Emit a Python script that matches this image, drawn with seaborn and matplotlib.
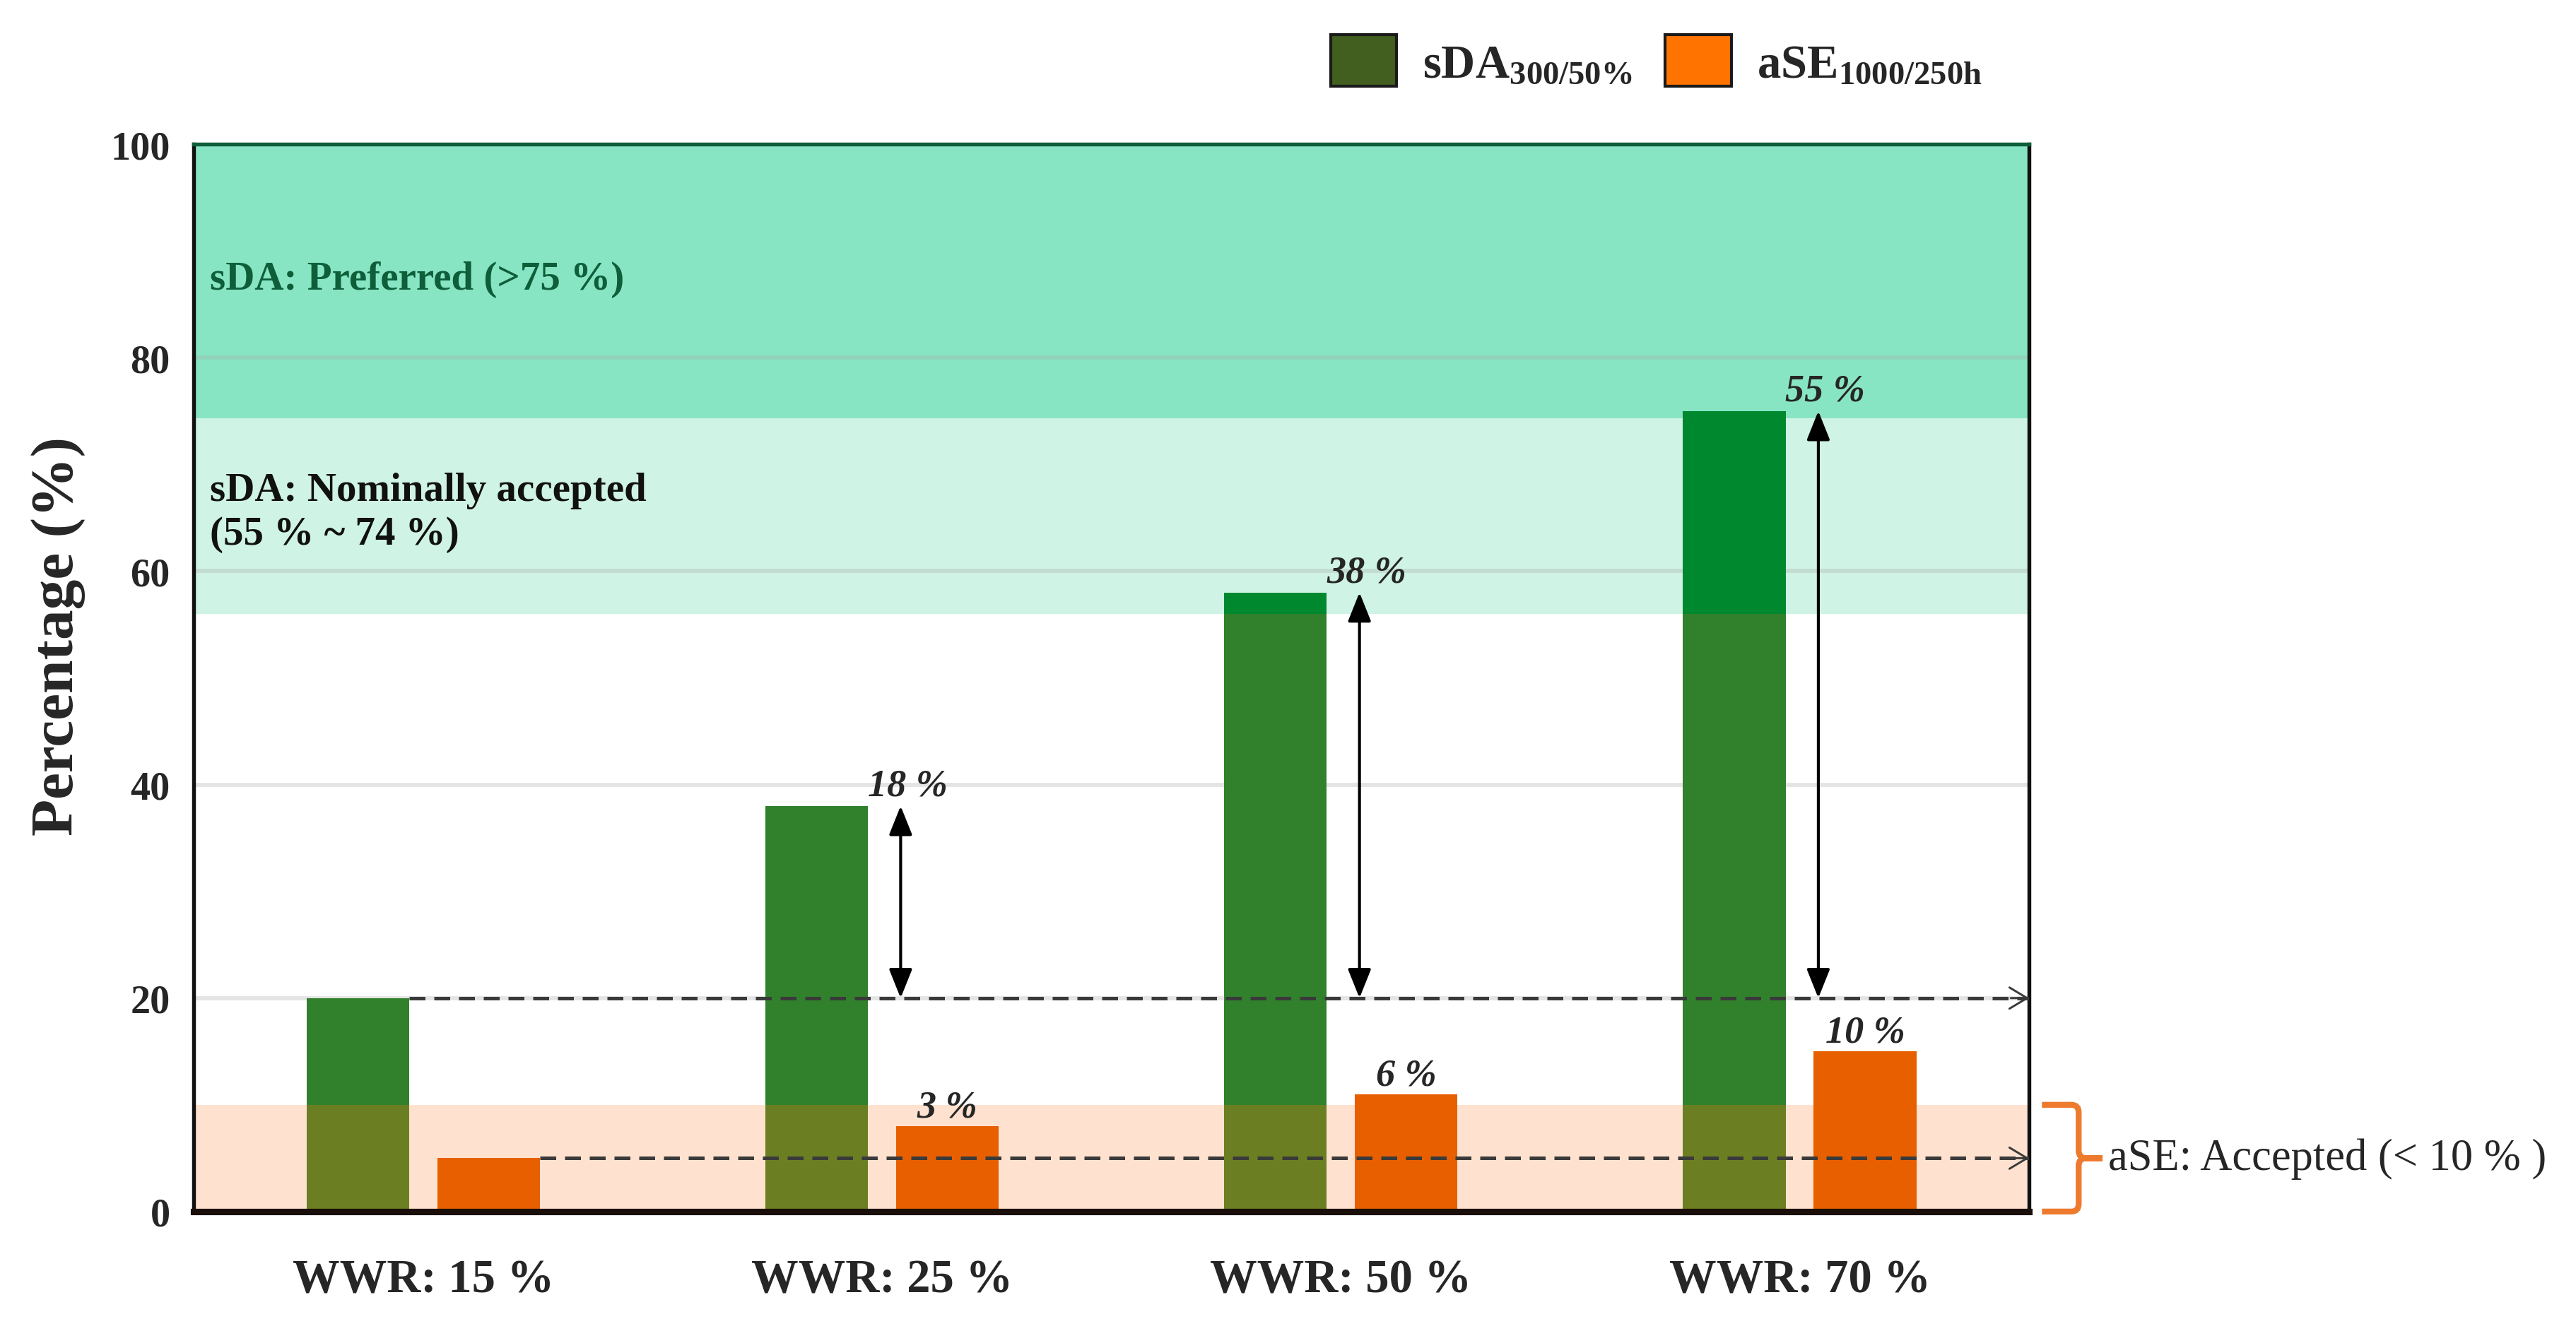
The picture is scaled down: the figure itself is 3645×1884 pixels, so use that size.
import pandas as pd
import matplotlib
matplotlib.use('Agg')
import matplotlib.pyplot as plt
import matplotlib.transforms as mtransforms
from matplotlib.patches import Patch, Rectangle, PathPatch
from matplotlib.path import Path
import seaborn as sns

# data
wwr_labels = ['WWR: 15 %', 'WWR: 25 %', 'WWR: 50 %', 'WWR: 70 %']
sda_values = [20, 38, 58, 75]
ase_values = [5, 8, 11, 15]
sda_gain_labels = ['18 %', '38 %', '55 %']
ase_gain_labels = ['3 %', '6 %', '10 %']
metric_names = ['sDA', 'aSE']

# threshold bands
sda_preferred = (74.3, 100)
sda_nominal = (56, 74.3)
ase_accepted = (0, 10)

df = pd.DataFrame({
    'wwr': wwr_labels * 2,
    'metric': ['sDA'] * len(wwr_labels) + ['aSE'] * len(wwr_labels),
    'value': sda_values + ase_values,
})

sns.set_style('white')
plt.rcParams['font.family'] = ['Liberation Serif', 'DejaVu Serif']
plt.rcParams['mathtext.fontset'] = 'custom'
plt.rcParams['mathtext.rm'] = 'Liberation Serif'
plt.rcParams['mathtext.bf'] = 'Liberation Serif:bold'
plt.rcParams['mathtext.it'] = 'Liberation Serif:italic'

green = '#31802c'
green_hi = '#00882f'
olive = '#6b7f22'
orange = '#e85f00'

fig = plt.figure(figsize=(12.15, 6.2833), dpi=300)
ax = fig.add_axes([0.0752, 0.0897, 0.7125, 0.8015])

band_pref = ax.axhspan(*sda_preferred, color='#88e5c4', lw=0, zorder=0)
band_nom = ax.axhspan(*sda_nominal, color='#cff3e4', lw=0, zorder=0)
band_ase = ax.axhspan(*ase_accepted, color='#fee2cf', lw=0, zorder=0)

sns.barplot(data=df, x='wwr', y='value', hue='metric', hue_order=metric_names,
            palette=[green, orange], width=0.57, gap=0.215, saturation=1,
            errorbar=None, legend=False, ax=ax, zorder=2, linewidth=0)

sda_bars = ax.containers[0]
ase_bars = ax.containers[1]

# green bars take a different tint where they sit inside a band
for bar in sda_bars:
    for band, col in [(band_pref, green_hi), (band_nom, green_hi), (band_ase, olive)]:
        piece = Rectangle(bar.get_xy(), bar.get_width(), bar.get_height(),
                          facecolor=col, lw=0, zorder=2.1)
        ax.add_patch(piece)
        piece.set_clip_path(band)

ax.set_xlim(-0.5, 3.5)
ax.set_ylim(0, 100)
x_end = ax.get_xlim()[1]

# dashed reference lines from the first pair of bars
dash_col = '#3a3a3a'
for bar, y in [(sda_bars[0], sda_values[0]), (ase_bars[0], ase_values[0])]:
    x0 = bar.get_x() + bar.get_width()
    ax.plot([x0, x_end], [y, y], color=dash_col, lw=1.2, ls=(0, (4.5, 2.5)), zorder=3)
    ax.annotate('', xy=(x_end, y), xytext=(x_end - 0.04, y),
                arrowprops=dict(arrowstyle='->, head_length=0.5, head_width=0.3',
                                color=dash_col, lw=0.7, shrinkA=0, shrinkB=0,
                                mutation_scale=12),
                annotation_clip=False, zorder=3)

# gain arrows and labels
for i in range(1, len(wwr_labels)):
    ob = ase_bars[i]
    xa = ob.get_x() + 0.01
    ax.annotate('', xy=(xa, sda_values[i]), xytext=(xa, sda_values[0]),
                arrowprops=dict(arrowstyle='<|-|>, head_length=0.4, head_width=0.16',
                                mutation_scale=21, color='black', lw=1.0,
                                shrinkA=0, shrinkB=0), zorder=4)
    ax.text(xa + 0.015, sda_values[i] + 1.0, sda_gain_labels[i - 1], ha='center',
            va='baseline', fontsize=13, fontweight='bold', style='italic', zorder=5)
    ax.text(ob.get_x() + ob.get_width() / 2, ase_values[i] + 0.9, ase_gain_labels[i - 1],
            ha='center', va='baseline', fontsize=13, fontweight='bold', style='italic', zorder=5)

# band captions
yax = ax.get_yaxis_transform()
ax.text(0.009, 87.4, 'sDA: Preferred (>75 %)', transform=yax, color='#0e5e3a',
        fontsize=13.7, fontweight='bold', va='center', ha='left')
ax.text(0.009, 65.5, 'sDA: Nominally accepted\n(55 % ~ 74 %)', transform=yax,
        color='#111111', fontsize=13.7, fontweight='bold', va='center', ha='left',
        linespacing=1.25)

# brace for the aSE band, outside the axes
trans = mtransforms.blended_transform_factory(ax.transAxes, ax.transData)
x0, x1, x2 = 1.007, 1.027, 1.040
lo, hi = ase_accepted
mid = (lo + hi) / 2
r = 0.7
verts = [(x0, hi), (x1 - 0.004, hi), (x1, hi), (x1, hi - r),
         (x1, mid + r), (x1, mid), (x1 + 0.004, mid), (x2, mid),
         (x1 + 0.004, mid), (x1, mid), (x1, mid - r),
         (x1, lo + r), (x1, lo), (x1 - 0.004, lo), (x0, lo)]
codes = [Path.MOVETO, Path.LINETO, Path.CURVE3, Path.CURVE3,
         Path.LINETO, Path.CURVE3, Path.CURVE3, Path.LINETO,
         Path.LINETO, Path.CURVE3, Path.CURVE3,
         Path.LINETO, Path.CURVE3, Path.CURVE3, Path.LINETO]
ax.add_patch(PathPatch(Path(verts, codes), fill=False, edgecolor='#ee7a2e', lw=2.0,
                       transform=trans, clip_on=False))
ax.text(1.043, mid, 'aSE: Accepted (< 10 % )', transform=yax, fontsize=15,
        va='center', ha='left')

# axes styling
ax.set_yticks([0, 20, 40, 60, 80, 100])
ax.tick_params(axis='y', length=0, pad=8, labelsize=13.5)
ax.tick_params(axis='x', length=0, pad=16, labelsize=16)
for lab in ax.get_xticklabels() + ax.get_yticklabels():
    lab.set_fontweight('bold')
ax.set_xlabel('')
ax.set_ylabel('Percentage (%)', fontsize=20.5, fontweight='bold')
ax.yaxis.set_label_coords(-0.059, 0.54)

ax.set_axisbelow(True)
ax.yaxis.grid(True, color='#a8a8a8', alpha=0.3, lw=1.4)
ax.xaxis.grid(False)

for side in ['left', 'right']:
    ax.spines[side].set_color('#111111')
    ax.spines[side].set_linewidth(1.3)
ax.spines['top'].set_color('#0e5e3a')
ax.spines['top'].set_linewidth(1.3)
ax.spines['bottom'].set_color('#1a0e08')
ax.spines['bottom'].set_linewidth(2.2)

# legend
handles = [Patch(facecolor='#425f20', edgecolor='#1a1a1a', lw=1.0),
           Patch(facecolor='#ff7400', edgecolor='#1a1a1a', lw=1.0)]
labels = [r'$\mathbf{sDA}_{\mathbf{300/50\%}}$', r'$\mathbf{aSE}_{\mathbf{1000/250h}}$']
fig.legend(handles, labels, loc='center left', bbox_to_anchor=(0.5166, 0.954), ncol=2,
           frameon=False, fontsize=16, handlelength=1.4, handleheight=1.3,
           handletextpad=0.55, columnspacing=0.7, borderpad=0, borderaxespad=0)

fig.savefig('out.png', dpi=300)
